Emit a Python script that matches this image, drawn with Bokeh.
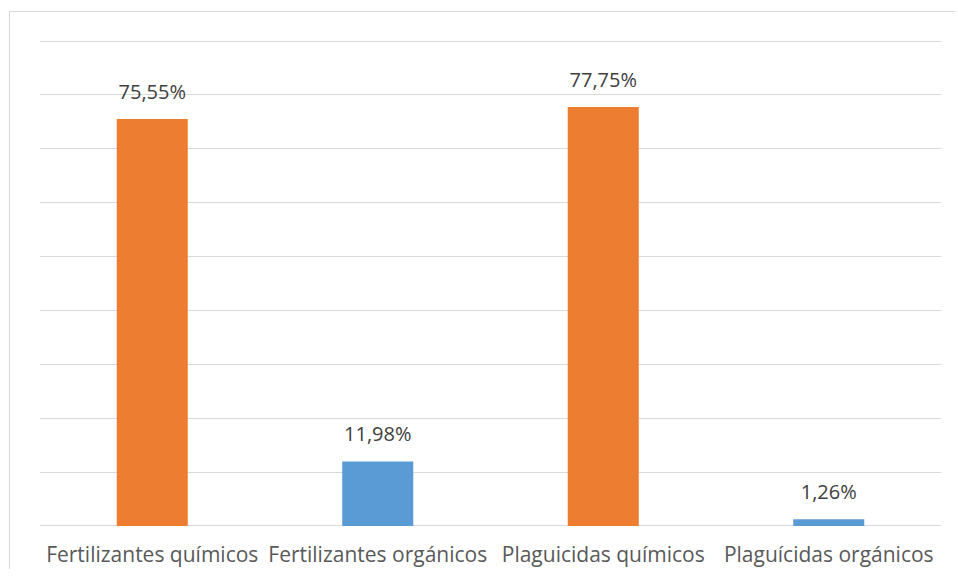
from bokeh.plotting import figure
from bokeh.models import ColumnDataSource, FactorRange, Range1d, FixedTicker, LabelSet
from bokeh.core.properties import value
from bokeh.embed import file_html
from bokeh.resources import INLINE

categories = ["Fertilizantes químicos", "Fertilizantes orgánicos", "Plaguicidas químicos", "Plaguícidas orgánicos"]
values = [75.55, 11.98, 77.75, 1.26]
labels = ["75,55%", "11,98%", "77,75%", "1,26%"]
colors = ["#ED7D31", "#5B9BD5", "#ED7D31", "#5B9BD5"]

source = ColumnDataSource(dict(cat=categories, val=values, lab=labels, col=colors))

p = figure(
    x_range=FactorRange(factors=categories, range_padding=0),
    y_range=Range1d(-0.1, 90.1),
    width=946, height=558,
    output_backend="svg", toolbar_location=None,
    min_border_left=29, min_border_right=15, min_border_top=28, min_border_bottom=10,
    margin=(11, 0, 0, 9),
)
p.styles = {"border-left": "1px solid #D9D9D9", "border-top": "1px solid #D9D9D9"}
p.outline_line_color = None
p.background_fill_color = "white"
p.border_fill_color = "white"

p.vbar(x="cat", top="val", width=0.315, source=source, fill_color="col", line_color=None)

p.add_layout(LabelSet(x="cat", y="val", text="lab", source=source, y_offset=20,
                      text_align="center", text_baseline="alphabetic",
                      text_font=value("Open Sans"), text_font_size=value("20px"),
                      text_color=value("#404040")))

p.yaxis.visible = False
p.yaxis.ticker = FixedTicker(ticks=[0, 10, 20, 30, 40, 50, 60, 70, 80, 90])
p.ygrid.ticker = FixedTicker(ticks=[0, 10, 20, 30, 40, 50, 60, 70, 80, 90])
p.ygrid.grid_line_color = "#D9D9D9"
p.ygrid.grid_line_width = 1
p.xgrid.visible = False

ax = p.xaxis[0]
ax.axis_line_color = None
ax.major_tick_line_color = None
ax.minor_tick_line_color = None
ax.major_tick_out = 0
ax.major_label_standoff = 13
ax.major_label_text_font = "Open Sans"
ax.major_label_text_font_size = "21px"
ax.major_label_text_color = "#595959"

open("out.html", "w").write(file_html(p, INLINE))
